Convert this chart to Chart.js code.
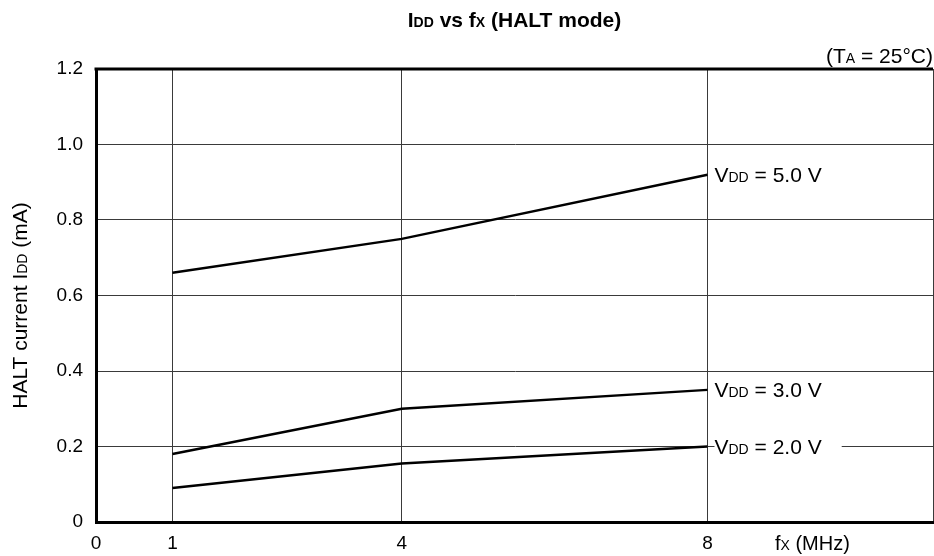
<!DOCTYPE html>
<html>
<head>
<meta charset="utf-8">
<script src="https://cdn.jsdelivr.net/npm/chart.js@4.4.1/dist/chart.umd.min.js"></script>
<style>
  html, body { margin: 0; padding: 0; background: #fff; }
  #wrap { width: 934px; height: 556px; }
</style>
</head>
<body>
<div id="wrap"><canvas id="chart" width="934" height="556"></canvas></div>
<script>
// HALT current vs clock frequency, one curve per supply voltage
const freqMHz = [1, 4, 8];
const idd5v = [0.66, 0.75, 0.92];
const idd3v = [0.18, 0.30, 0.35];
const idd2v = [0.09, 0.155, 0.20];
const vddLabels = ['5.0 V', '3.0 V', '2.0 V'];

const xMax = 10.95;
const xTicks = [0, 1, 4, 8, xMax];
const xTickLabels = ['0', '1', '4', '8', ''];
const yTicks = [0, 0.2, 0.4, 0.6, 0.8, 1.0, 1.2];

const FONT = '"Liberation Sans", Arial, sans-serif';
const GRID = '#3a3a3a';

const toPoints = ys => freqMHz.map((f, i) => ({ x: f, y: ys[i] }));

// draws text made of [string, isSubscript] pieces on one baseline
function drawRich(ctx, parts, x, y, size, opts = {}) {
  const weight = opts.bold ? 'bold ' : '';
  const subSize = Math.round(size * 0.68);
  let total = 0;
  parts.forEach(([t, sub]) => {
    ctx.font = weight + (sub ? subSize : size) + 'px ' + FONT;
    total += ctx.measureText(t).width;
  });
  let cx = x;
  if (opts.align === 'center') cx = x - total / 2;
  if (opts.align === 'right') cx = x - total;
  const base = y + size * 0.36;
  if (opts.bg) {
    ctx.fillStyle = '#fff';
    ctx.fillRect(cx, y - size * 0.55, total + opts.bg, size * 1.1);
  }
  ctx.fillStyle = '#000';
  ctx.textBaseline = 'alphabetic';
  ctx.textAlign = 'left';
  parts.forEach(([t, sub]) => {
    ctx.font = weight + (sub ? subSize : size) + 'px ' + FONT;
    ctx.fillText(t, cx, base);
    cx += ctx.measureText(t).width;
  });
  return total;
}

const textPlugin = {
  id: 'textPlugin',
  afterDraw(chart) {
    const { ctx, chartArea: a, scales } = chart;
    ctx.save();

    // heavy top frame line
    ctx.strokeStyle = '#000';
    ctx.lineWidth = 3;
    ctx.beginPath();
    ctx.moveTo(a.left - 1.5, a.top);
    ctx.lineTo(a.right, a.top);
    ctx.stroke();

    drawRich(ctx, [['I', 0], ['DD', 1], [' vs f', 0], ['X', 1], [' (HALT mode)', 0]],
      (a.left + a.right) / 2, 19, 21, { bold: true, align: 'center' });
    drawRich(ctx, [['(T', 0], ['A', 1], [' = 25°C)', 0]], a.right, 55, 21, { align: 'right' });
    drawRich(ctx, [['f', 0], ['X', 1], [' (MHz)', 0]], 775, 543, 20);

    ctx.save();
    ctx.translate(19, (a.top + a.bottom) / 2 + 10);
    ctx.rotate(-Math.PI / 2);
    drawRich(ctx, [['HALT current I', 0], ['DD', 1], [' (mA)', 0]], 0, 0, 21, { align: 'center' });
    ctx.restore();

    // curve labels next to the last point of each series
    chart.data.datasets.forEach((ds, i) => {
      const last = ds.data[ds.data.length - 1];
      const px = scales.x.getPixelForValue(last.x) + 7;
      const py = scales.y.getPixelForValue(last.y);
      drawRich(ctx, [['V', 0], ['DD', 1], [' = ' + vddLabels[i], 0]], px, py, 21, { bg: 20 });
    });
    ctx.restore();
  }
};

new Chart(document.getElementById('chart'), {
  type: 'line',
  data: {
    datasets: [idd5v, idd3v, idd2v].map(ys => ({
      data: toPoints(ys),
      borderColor: '#000',
      borderWidth: 2.5,
      pointRadius: 0,
      tension: 0,
      fill: false
    }))
  },
  options: {
    responsive: false,
    animation: false,
    layout: { padding: { top: 69, right: 1, left: 0, bottom: 0 } },
    plugins: { legend: { display: false }, tooltip: { enabled: false }, title: { display: false } },
    scales: {
      x: {
        type: 'linear',
        min: 0,
        max: xMax,
        afterBuildTicks: s => { s.ticks = xTicks.map(v => ({ value: v })); },
        afterFit: s => {
          s.height = 34;
          s.paddingLeft = 0;
          s.paddingRight = 0;
        },
        ticks: {
          color: '#000',
          font: { family: FONT, size: 19 },
          padding: 10,
          maxRotation: 0,
          autoSkip: false,
          callback: v => xTickLabels[xTicks.indexOf(v)]
        },
        grid: {
          color: c => (c.tick && c.tick.value === 0 ? 'rgba(0,0,0,0)' : GRID),
          lineWidth: 1,
          drawTicks: false
        },
        border: { display: true, color: '#000', width: 3 }
      },
      y: {
        min: 0,
        max: 1.2,
        afterBuildTicks: s => { s.ticks = yTicks.map(v => ({ value: v })); },
        afterFit: s => {
          s.width = 96;
          s.paddingTop = 0;
          s.paddingBottom = 0;
        },
        ticks: {
          color: '#000',
          font: { family: FONT, size: 19 },
          padding: 13,
          callback: v => (v === 0 ? '0' : v.toFixed(1))
        },
        grid: {
          color: c => (c.tick && (c.tick.value === 0 || c.tick.value === 1.2) ? 'rgba(0,0,0,0)' : GRID),
          lineWidth: 1,
          drawTicks: false
        },
        border: { display: true, color: '#000', width: 3 }
      }
    }
  },
  plugins: [textPlugin]
});
</script>
</body>
</html>
